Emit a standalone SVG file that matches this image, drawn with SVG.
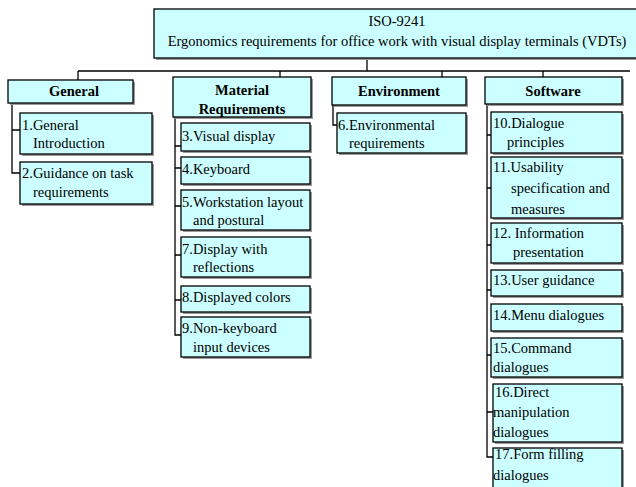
<svg xmlns="http://www.w3.org/2000/svg" width="636" height="487" viewBox="0 0 636 487">
<style>
.b{fill:#CCFFFF;stroke:#000;stroke-width:1.3}
.s{fill:#9a9a9a}
.t{font-family:"Liberation Serif","Times New Roman",serif;font-size:14.5px;fill:#000}
.h{font-family:"Liberation Serif","Times New Roman",serif;font-size:14.5px;font-weight:bold;fill:#000;text-anchor:middle}
.m{text-anchor:middle}
.c{fill:none;stroke:#000;stroke-width:1.3}
</style>
<rect width="636" height="487" fill="#fff"/>
<g id="connectors">
<path class="c" d="M367 58V71M78 71H630M78 71V80M280 71V77M442 71V77M543 71V77"/>
<path class="c" d="M12 103V173H20M12 130H20"/>
<path class="c" d="M175 117V335H181M175 146H181M175 168H181M175 206H181M175 255H181M175 300H181"/>
<path class="c" d="M333 105V125H337"/>
<path class="c" d="M487 104V457H493M487 135H491M487 188H491M487 245H491M487 290H491M487 355H491M487 412H493"/>
</g>
<g id="root">
<rect class="s" x="156" y="11" width="490" height="49"/>
<rect class="b" x="154" y="9" width="490" height="49"/>
<text class="t m" x="397" y="26">ISO-9241</text>
<text class="t m" x="397" y="46">Ergonomics requirements for office work with visual display terminals (VDTs)</text>
</g>
<g id="general">
<rect class="s" x="10" y="82" width="125" height="23"/>
<rect class="b" x="8" y="80" width="125" height="23"/>
<text class="h" x="74" y="96">General</text>
</g>
<g id="n1">
<rect class="s" x="22" y="115" width="132" height="41"/>
<rect class="b" x="20" y="113" width="132" height="41"/>
<text class="t" x="22" y="130">1.General</text>
<text class="t" x="33" y="148">Introduction</text>
</g>
<g id="n2">
<rect class="s" x="22" y="164" width="132" height="42"/>
<rect class="b" x="20" y="162" width="132" height="42"/>
<text class="t" x="22" y="178">2.Guidance on task</text>
<text class="t" x="33" y="197">requirements</text>
</g>
<g id="material">
<rect class="s" x="175" y="79" width="138" height="40"/>
<rect class="b" x="173" y="77" width="138" height="40"/>
<text class="h" x="242" y="95">Material</text>
<text class="h" x="242" y="114">Requirements</text>
</g>
<g id="n3">
<rect class="s" x="183" y="125" width="129" height="28"/>
<rect class="b" x="181" y="123" width="129" height="28"/>
<text class="t" x="182" y="141">3.Visual display</text>
</g>
<g id="n4">
<rect class="s" x="183" y="159" width="129" height="27"/>
<rect class="b" x="181" y="157" width="129" height="27"/>
<text class="t" x="182" y="174">4.Keyboard</text>
</g>
<g id="n5">
<rect class="s" x="183" y="192" width="129" height="40"/>
<rect class="b" x="181" y="190" width="129" height="40"/>
<text class="t" x="182" y="207">5.Workstation layout</text>
<text class="t" x="193" y="225">and postural</text>
</g>
<g id="n7">
<rect class="s" x="183" y="239" width="129" height="40"/>
<rect class="b" x="181" y="237" width="129" height="40"/>
<text class="t" x="182" y="254">7.Display with</text>
<text class="t" x="193" y="272">reflections</text>
</g>
<g id="n8">
<rect class="s" x="183" y="288" width="129" height="26"/>
<rect class="b" x="181" y="286" width="129" height="26"/>
<text class="t" x="182" y="302">8.Displayed colors</text>
</g>
<g id="n9">
<rect class="s" x="183" y="319" width="129" height="40"/>
<rect class="b" x="181" y="317" width="129" height="40"/>
<text class="t" x="182" y="333">9.Non-keyboard</text>
<text class="t" x="193" y="352">input devices</text>
</g>
<g id="environment">
<rect class="s" x="334" y="79" width="134" height="28"/>
<rect class="b" x="332" y="77" width="134" height="28"/>
<text class="h" x="399" y="96">Environment</text>
</g>
<g id="n6">
<rect class="s" x="339" y="115" width="129" height="40"/>
<rect class="b" x="337" y="113" width="129" height="40"/>
<text class="t" x="338" y="130">6.Environmental</text>
<text class="t" x="349" y="148">requirements</text>
</g>
<g id="software">
<rect class="s" x="487" y="79" width="137" height="27"/>
<rect class="b" x="485" y="77" width="137" height="27"/>
<text class="h" x="553" y="96">Software</text>
</g>
<g id="n10">
<rect class="s" x="493" y="114" width="131" height="41"/>
<rect class="b" x="491" y="112" width="131" height="41"/>
<text class="t" x="493" y="128">10.Dialogue</text>
<text class="t" x="507" y="147">principles</text>
</g>
<g id="n11">
<rect class="s" x="493" y="159" width="131" height="61"/>
<rect class="b" x="491" y="157" width="131" height="61"/>
<text class="t" x="493" y="172">11.Usability</text>
<text class="t" x="511" y="193">specification and</text>
<text class="t" x="511" y="214">measures</text>
</g>
<g id="n12">
<rect class="s" x="493" y="225" width="131" height="40"/>
<rect class="b" x="491" y="223" width="131" height="40"/>
<text class="t" x="493" y="238">12. Information</text>
<text class="t" x="513" y="257">presentation</text>
</g>
<g id="n13">
<rect class="s" x="493" y="272" width="131" height="26"/>
<rect class="b" x="491" y="270" width="131" height="26"/>
<text class="t" x="493" y="285">13.User guidance</text>
</g>
<g id="n14">
<rect class="s" x="493" y="306" width="131" height="27"/>
<rect class="b" x="491" y="304" width="131" height="27"/>
<text class="t" x="493" y="320">14.Menu dialogues</text>
</g>
<g id="n15">
<rect class="s" x="493" y="340" width="131" height="39"/>
<rect class="b" x="491" y="338" width="131" height="39"/>
<text class="t" x="493" y="353">15.Command</text>
<text class="t" x="493" y="372">dialogues</text>
</g>
<g id="n16">
<rect class="s" x="495" y="386" width="129" height="58"/>
<rect class="b" x="493" y="384" width="129" height="58"/>
<text class="t" x="495" y="397">16.Direct</text>
<text class="t" x="493" y="417">manipulation</text>
<text class="t" x="493" y="437">dialogues</text>
</g>
<g id="n17">
<rect class="s" x="495" y="450" width="129" height="45"/>
<rect class="b" x="493" y="448" width="129" height="45"/>
<text class="t" x="495" y="459">17.Form filling</text>
<text class="t" x="493" y="480">dialogues</text>
</g>
</svg>
